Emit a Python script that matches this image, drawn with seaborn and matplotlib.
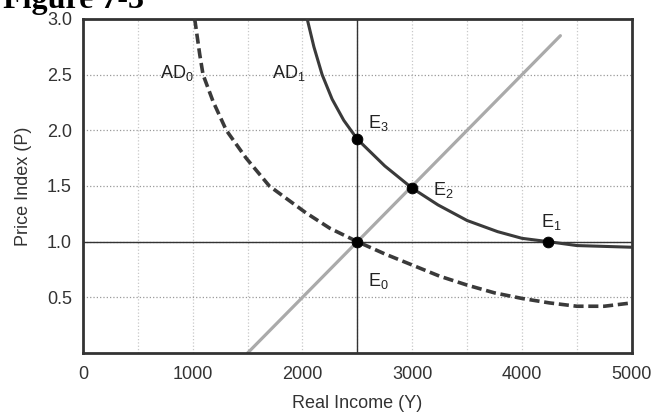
import numpy as np
import pandas as pd
import seaborn as sns
import matplotlib.pyplot as plt

# values
ad0_y_inc = [1018, 1064, 1094, 1185, 1306, 1487, 1698, 2030, 2250, 2500, 2750, 3000,
             3250, 3500, 3750, 4000, 4250, 4500, 4750, 5000]
ad0_p = [3.0, 2.68, 2.5, 2.26, 2.0, 1.75, 1.5, 1.26, 1.12, 1.0, 0.89, 0.79,
         0.69, 0.61, 0.54, 0.49, 0.45, 0.42, 0.42, 0.45]

ad1_y_inc = [2043, 2104, 2179, 2270, 2376, 2500, 2750, 3000, 3235, 3500, 3778, 4000, 4240, 4500, 5000]
ad1_p = [3.0, 2.75, 2.50, 2.28, 2.09, 1.92, 1.68, 1.48, 1.33, 1.19, 1.09, 1.03, 1.0, 0.965, 0.95]

as_y_inc = [1500, 4350]
as_p = [0.0, 2.85]

eq_y_inc = [2500, 4240, 3000, 2500]
eq_p = [1.0, 1.0, 1.48, 1.92]

x_ticks = [0, 1000, 2000, 3000, 4000, 5000]
y_ticks = [0.5, 1.0, 1.5, 2.0, 2.5, 3.0]

sns.set_style('white')
plt.rcParams['font.family'] = ['Liberation Sans', 'DejaVu Sans']
plt.rcParams['mathtext.fontset'] = 'custom'
plt.rcParams['mathtext.rm'] = 'Liberation Sans'
plt.rcParams['mathtext.it'] = 'Liberation Sans'

fig = plt.figure(figsize=(6.56, 4.12), dpi=100)
ax = fig.add_axes([0.1265, 0.1432, 0.8365, 0.8107])

# grid
for gx in np.arange(500, 5000, 500):
    ax.axvline(gx, color='#c8c8c8', lw=0.9, ls=':', zorder=0)
for gy in np.arange(0.5, 3.0, 0.5):
    ax.axhline(gy, color='#999999', lw=0.9, ls=':', zorder=0)
ax.axvline(2500, color='#333333', lw=1.0, zorder=1)
ax.axhline(1.0, color='#333333', lw=1.0, zorder=1)

df_as = pd.DataFrame({'Y': as_y_inc, 'P': as_p})
df_ad0 = pd.DataFrame({'Y': ad0_y_inc, 'P': ad0_p})
df_ad1 = pd.DataFrame({'Y': ad1_y_inc, 'P': ad1_p})
df_eq = pd.DataFrame({'Y': eq_y_inc, 'P': eq_p})

sns.lineplot(data=df_as, x='Y', y='P', ax=ax, color='#aaaaaa', lw=2.3, sort=False, zorder=2)
sns.lineplot(data=df_ad0, x='Y', y='P', ax=ax, color='#3a3a3a', lw=2.6, sort=False, zorder=3)
ax.lines[-1].set_dashes([2.8, 1.3])
sns.lineplot(data=df_ad1, x='Y', y='P', ax=ax, color='#3a3a3a', lw=2.2, sort=False, zorder=3)
sns.scatterplot(data=df_eq, x='Y', y='P', ax=ax, color='black', s=60, edgecolor='black', zorder=4)

lab = dict(fontsize=13, color='#222222')
ax.text(700, 2.47, 'AD$_0$', **lab)
ax.text(1720, 2.47, 'AD$_1$', **lab)
ax.text(2600, 2.02, 'E$_3$', **lab)
ax.text(3190, 1.42, 'E$_2$', **lab)
ax.text(4170, 1.13, 'E$_1$', **lab)
ax.text(2600, 0.60, 'E$_0$', **lab)

ax.set_xlim(0, 5000)
ax.set_ylim(0, 3.0)
ax.set_xticks(x_ticks)
ax.set_yticks(y_ticks)
ax.set_xticklabels([str(t) for t in x_ticks])
ax.set_yticklabels(['%.1f' % t for t in y_ticks])
ax.tick_params(axis='both', length=0, labelsize=13, labelcolor='#333333')
ax.tick_params(axis='x', pad=9)
ax.tick_params(axis='y', pad=8)
ax.set_xlabel('Real Income (Y)', fontsize=13, color='#333333', labelpad=9)
ax.set_ylabel('Price Index (P)', fontsize=13, color='#333333', labelpad=11)
for s in ax.spines.values():
    s.set_color('#333333')
    s.set_linewidth(2.0)

fig.text(0.005, 1 - 8 / 412, 'Figure 7-3', family='Liberation Serif', weight='bold',
         fontsize=23, va='baseline', ha='left', color='black')

fig.savefig('out.png', dpi=100)
